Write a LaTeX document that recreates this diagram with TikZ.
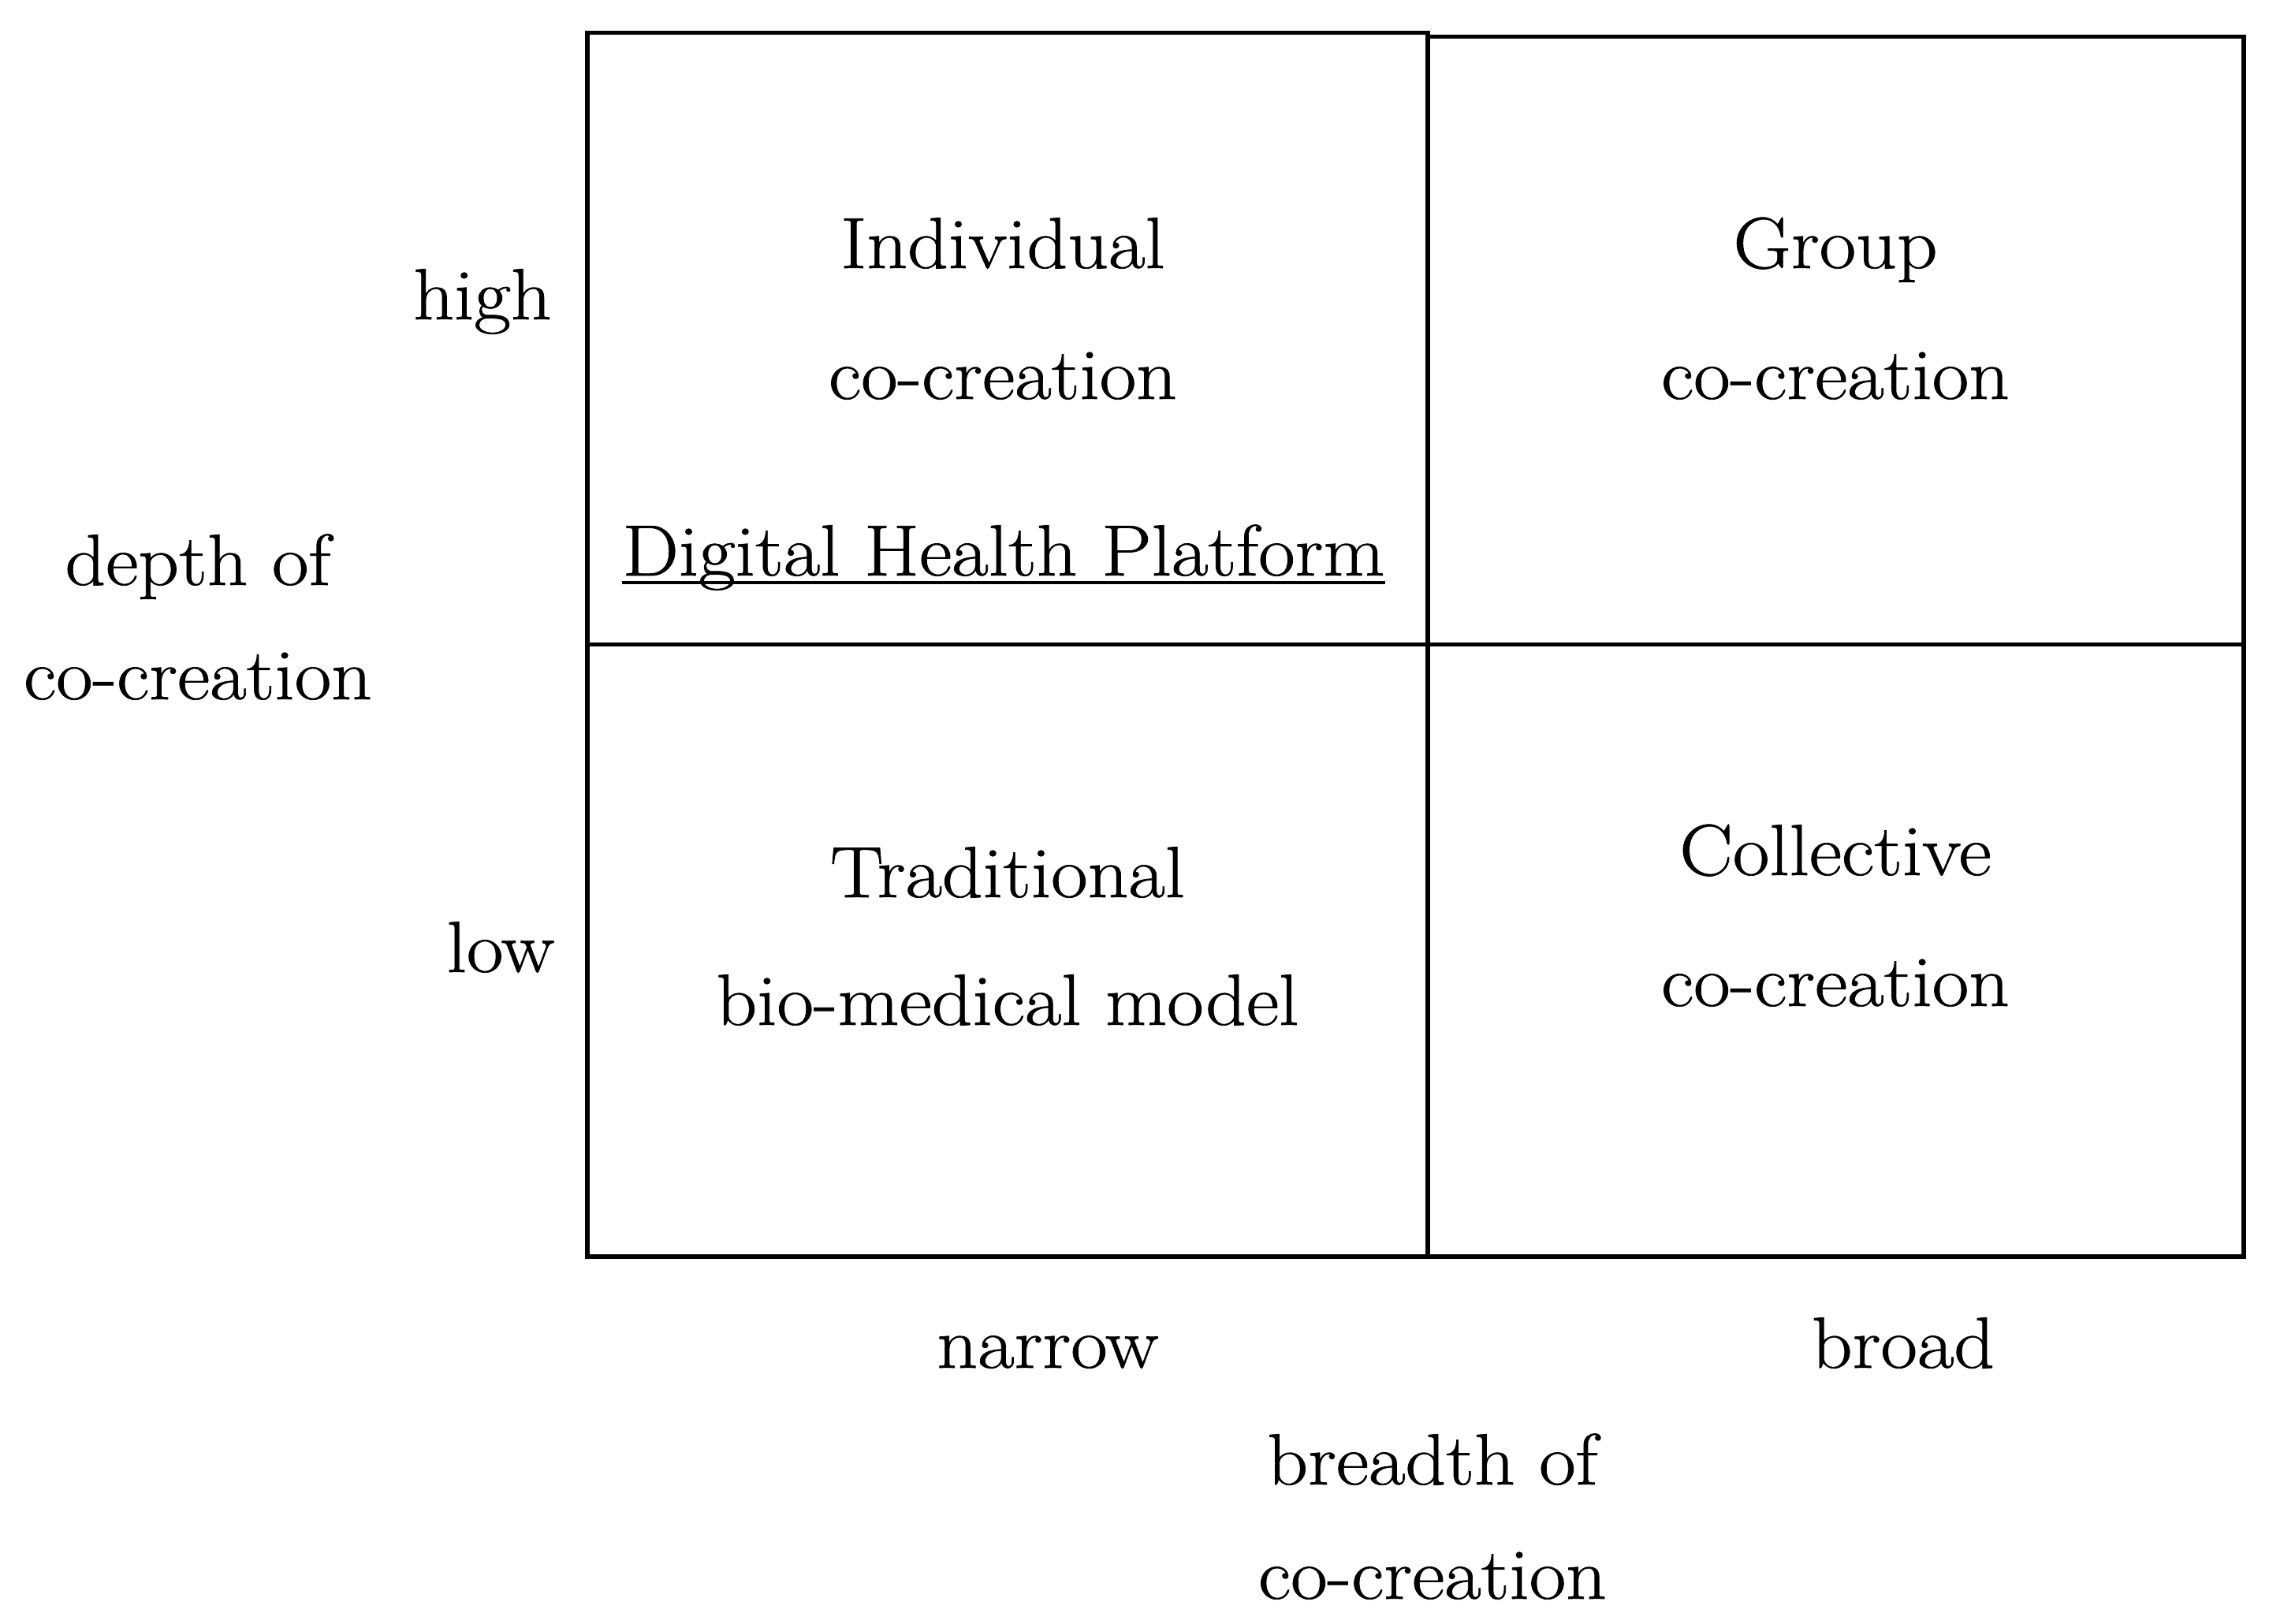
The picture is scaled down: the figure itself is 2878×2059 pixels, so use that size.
\documentclass[tikz,border=0pt]{standalone}
\usepackage{fontspec}
\setmainfont[FakeStretch=1.1,FakeBold=0.8]{Latin Modern Roman}
\begin{document}
\begin{tikzpicture}[x=0.25pt,y=-0.25pt,
  lbl/.style={inner sep=0pt, anchor=base, font=\fontsize{23}{28}\selectfont},
  gridline/.style={line width=1.3pt, line cap=rect, line join=miter}]
\useasboundingbox (0,0) rectangle (2878,2059);
% grid corners
\coordinate (A) at (745,41.5);
\coordinate (B) at (1811,41.5);
\coordinate (C) at (1811,46.5);
\coordinate (D) at (2846,46.5);
\coordinate (E) at (2846,1594);
\coordinate (F) at (745,1594);
\coordinate (G) at (1811,1594);
\coordinate (H) at (745,817.5);
\coordinate (I) at (2846,817.5);
\draw[gridline] (B) -- (A) -- (F) -- (E) -- (D) -- (C);
\draw[gridline] (B) -- (G);
\draw[gridline] (H) -- (I);
% cell texts
\node[lbl] (ind) at (1272,340) {Individual};
\node[lbl] (ind2) at (1272,506) {co-creation};
\node[lbl] (dhp) at (1273,730) {Digital Health Platform};
\draw[line width=1pt] ([yshift=-2.3pt]dhp.base west) -- ([yshift=-2.3pt]dhp.base east);
\node[lbl] (grp) at (2328,340) {Group};
\node[lbl] (grp2) at (2328,506) {co-creation};
\node[lbl] (trad) at (1278,1138) {Traditional};
\node[lbl] (trad2) at (1278,1300) {bio-medical model};
\node[lbl] (col) at (2328,1110) {Collective};
\node[lbl] (col2) at (2328,1276) {co-creation};
% axis labels
\node[lbl] (high) at (612,405) {high};
\node[lbl] (low) at (635,1233) {low};
\node[lbl] (dep) at (251,742) {depth of};
\node[lbl] (dep2) at (251,887) {co-creation};
\node[lbl] (nar) at (1329,1735) {narrow};
\node[lbl] (brd) at (2414,1735) {broad};
\node[lbl] (bre) at (1817,1883) {breadth of};
\node[lbl] (bre2) at (1817,2028) {co-creation};
\end{tikzpicture}
\end{document}
